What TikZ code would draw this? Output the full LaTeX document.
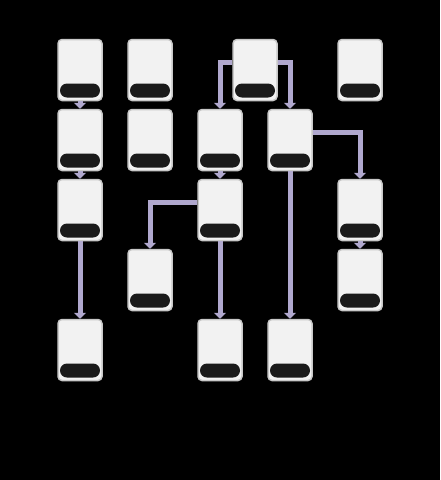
\documentclass[tikz,border=0pt]{standalone}
\usetikzlibrary{arrows.meta}
\definecolor{cardfill}{RGB}{242,242,242}
\definecolor{cardline}{RGB}{200,200,200}
\definecolor{barfill}{RGB}{26,26,26}
\definecolor{flowcol}{RGB}{176,168,206}
\tikzset{
  card/.style={draw=cardline, line width=1.5pt, fill=cardfill, rounded corners=4pt,
    minimum width=44pt, minimum height=61pt, inner sep=0pt,
    path picture={\fill[barfill, rounded corners=7pt]
      ([xshift=-20pt,yshift=3pt]path picture bounding box.south) rectangle ++(40pt,14pt);}},
  flow/.style={draw=flowcol, line width=5pt, -{Triangle[width=12pt,length=6pt]}}
}
\begin{document}
\begin{tikzpicture}[x=1pt,y=-1pt]
\fill[black] (0,0) rectangle (440,480);
\useasboundingbox (0,0) rectangle (440,480);
% row 1
\node[card] (a1) at (80,70) {};
\node[card] (b1) at (150,70) {};
\node[card] (top) at (255,70) {};
\node[card] (e1) at (360,70) {};
% row 2
\node[card] (a2) at (80,140) {};
\node[card] (b2) at (150,140) {};
\node[card] (c2) at (220,140) {};
\node[card] (d2) at (290,140) {};
% row 3
\node[card] (a3) at (80,210) {};
\node[card] (c3) at (220,210) {};
\node[card] (e3) at (360,210) {};
% row 4
\node[card] (b4) at (150,280) {};
\node[card] (e4) at (360,280) {};
% row 5
\node[card] (a5) at (80,350) {};
\node[card] (c5) at (220,350) {};
\node[card] (d5) at (290,350) {};
% links
\draw[flow] (a1) -- (a2);
\draw[flow] (a2) -- (a3);
\draw[flow] (a3) -- (a5);
\draw[flow] ([yshift=8pt]top.west) -| (c2.north);
\draw[flow] ([yshift=8pt]top.east) -| (d2.north);
\draw[flow] ([yshift=8pt]d2.east) -| (e3.north);
\draw[flow] (c2) -- (c3);
\draw[flow] (d2) -- (d5);
\draw[flow] ([yshift=8pt]c3.west) -| (b4.north);
\draw[flow] (c3) -- (c5);
\draw[flow] (e3) -- (e4);
\end{tikzpicture}
\end{document}
